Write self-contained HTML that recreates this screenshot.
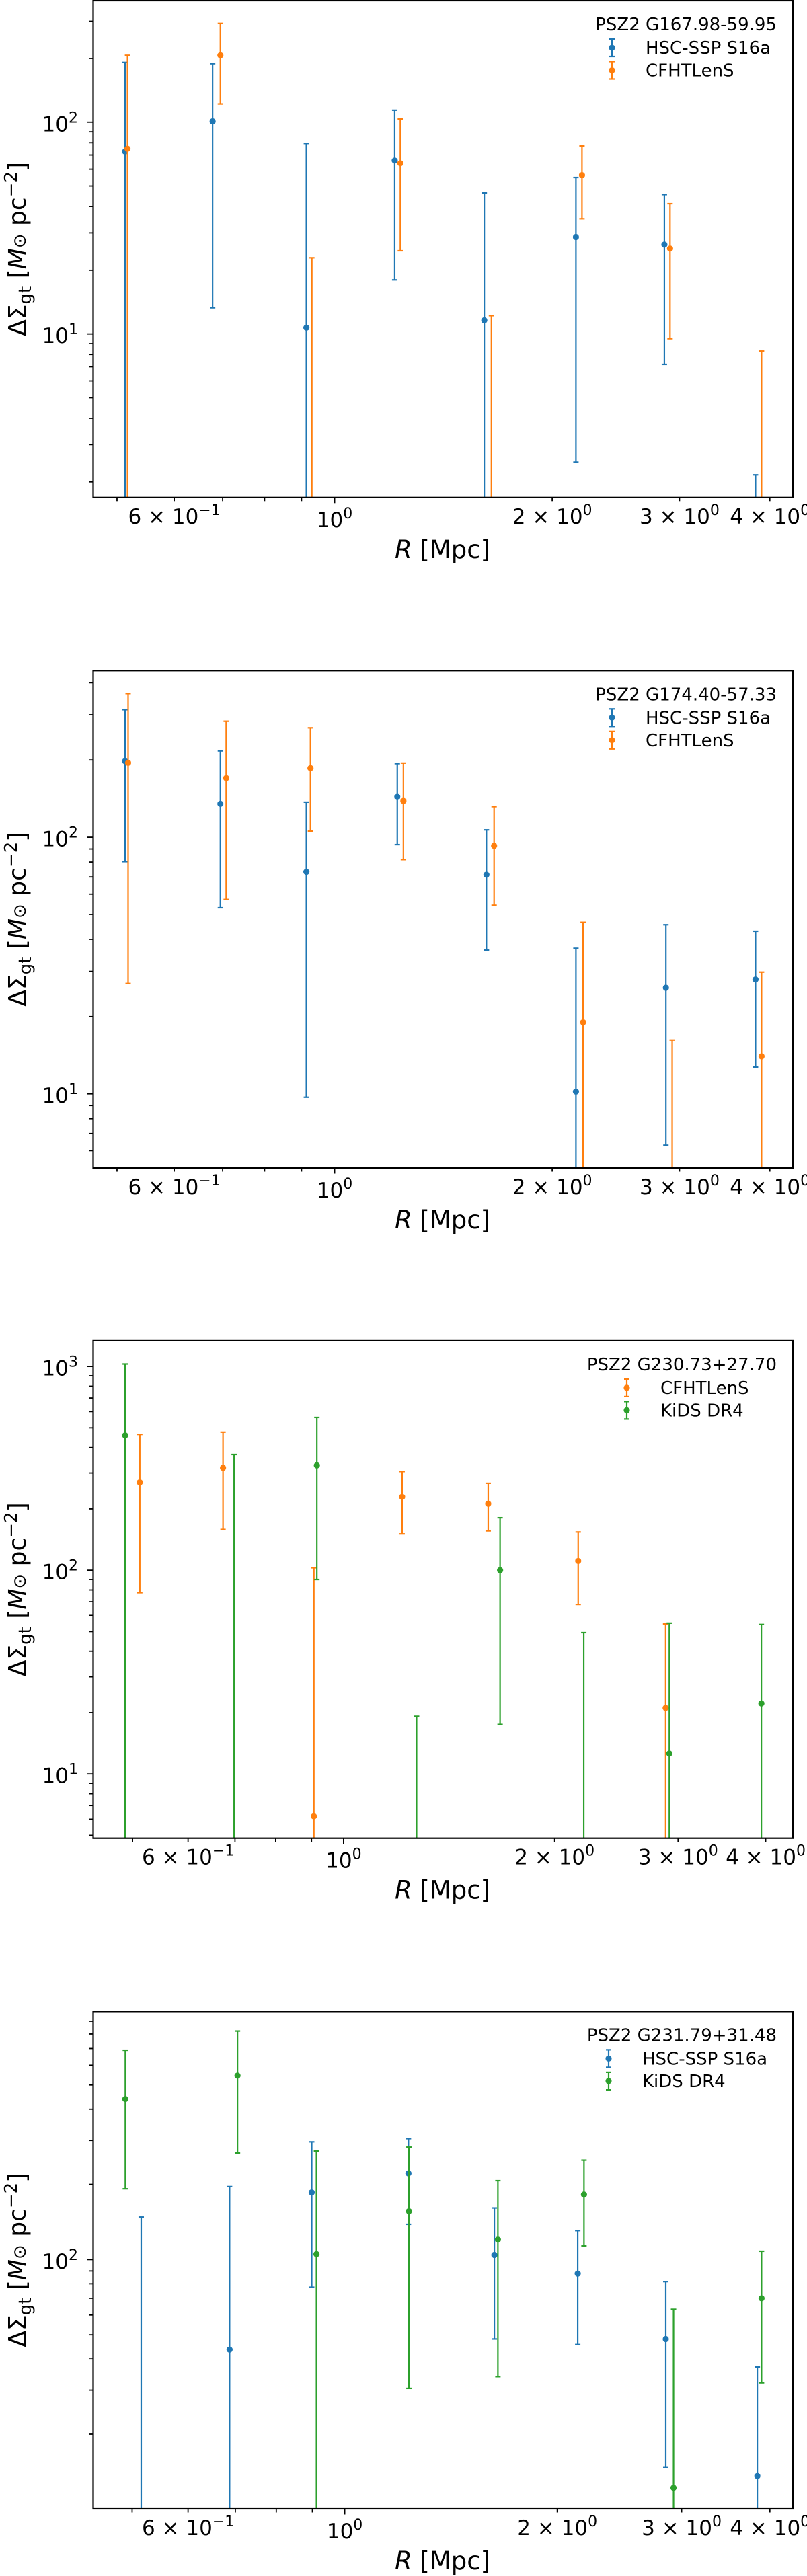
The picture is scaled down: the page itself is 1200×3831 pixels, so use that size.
<!DOCTYPE html>
<html><head><meta charset="utf-8">
<style>
html,body{margin:0;padding:0;background:#fff;width:1200px;height:3831px;overflow:hidden;}
svg{display:block;font-family:"DejaVu Sans","Liberation Sans",sans-serif;overflow:hidden;}
</style></head>
<body>
<svg id="fig" width="1200" height="3831" viewBox="0 0 1200 3831" xmlns="http://www.w3.org/2000/svg"></svg>
<script>
// ---------- Panel 1: PSZ2 G167.98-59.95 ----------
const p1_hsc_R   = [0.513, 0.678, 0.914, 1.211, 1.611, 2.157, 2.859, 3.822];
const p1_hsc_val = [72.7, 100.9, 10.7, 65.9, 11.6, 28.7, 26.4, 0.5];
const p1_hsc_hi  = [191.7, 189, 79.4, 114, 46.3, 54.8, 45.5, 2.16];
const p1_hsc_lo  = [0.1, 13.3, 0.1, 18.0, 0.1, 2.48, 7.18, 0.1];
const p1_cfh_R   = [0.517, 0.695, 0.930, 1.233, 1.648, 2.199, 2.911, 3.896];
const p1_cfh_val = [75, 207, 0.5, 64, 0.5, 56.2, 25.3, 0.5];
const p1_cfh_hi  = [207, 293, 22.9, 103.6, 12.2, 77.3, 41.2, 8.3];
const p1_cfh_lo  = [0.1, 122, 0.1, 24.7, 0.1, 35, 9.5, 0.1];
// ---------- Panel 2: PSZ2 G174.40-57.33 ----------
const p2_hsc_R   = [0.513, 0.695, 0.914, 1.221, 1.622, 2.157, 2.873, 3.822];
const p2_hsc_val = [198, 135, 73.3, 143.6, 71.4, 10.2, 25.9, 27.9];
const p2_hsc_hi  = [314, 217, 137, 193.6, 106.8, 36.9, 45.6, 43];
const p2_hsc_lo  = [80.3, 53.1, 9.7, 93.6, 36.3, 0.1, 6.3, 12.7];
const p2_cfh_R   = [0.518, 0.708, 0.926, 1.245, 1.662, 2.207, 2.931, 3.896];
const p2_cfh_val = [195, 170, 186, 138.5, 92.6, 19, 0.5, 14];
const p2_cfh_hi  = [363, 283, 267, 194.5, 131.6, 46.6, 16.2, 29.8];
const p2_cfh_lo  = [26.9, 57.2, 105.6, 81.8, 54.3, 0.1, 0.1, 0.1];
// ---------- Panel 3: PSZ2 G230.73+27.70 ----------
const p3_cfh_R   = [0.512, 0.673, 0.907, 1.212, 1.608, 2.161, 2.880];
const p3_cfh_val = [270, 318, 6.2, 229, 212, 111, 21.1];
const p3_cfh_hi  = [464, 476, 102.8, 305, 267, 154, 54.5];
const p3_cfh_lo  = [77.6, 158.5, 0.1, 150.7, 156, 67.9, 0.1];
const p3_kids_R   = [0.488, 0.698, 0.916, 1.271, 1.672, 2.201, 2.915, 3.944];
const p3_kids_val = [459, 0.5, 327, 0.5, 100, 0.5, 12.6, 22.2];
const p3_kids_hi  = [1028, 370, 562, 19.2, 181, 49.4, 55, 54.2];
const p3_kids_lo  = [0.1, 0.1, 90, 0.1, 17.5, 0.1, 0.1, 0.1];
// ---------- Panel 4: PSZ2 G231.79+31.48 ----------
const p4_hsc_R   = [0.515, 0.687, 0.898, 1.231, 1.629, 2.138, 2.849, 3.840];
const p4_hsc_val = [0.5, 43.6, 185.7, 221.5, 104.4, 87.9, 48.1, 13.6];
const p4_hsc_hi  = [148, 196, 296, 305, 161, 130.6, 81.6, 37.2];
const p4_hsc_lo  = [0.1, 0.1, 77.5, 138.4, 48.1, 45.7, 14.7, 0.1];
const p4_kids_R   = [0.489, 0.705, 0.912, 1.233, 1.648, 2.182, 2.922, 3.893];
const p4_kids_val = [439.5, 545, 105.2, 156.3, 120.2, 182, 12.2, 70];
const p4_kids_hi  = [689, 822, 272, 282, 207, 250, 63.2, 108];
const p4_kids_lo  = [192, 267, 0.1, 30.5, 34, 113.4, 0.1, 32.1];

const BLUE="#1f77b4", ORANGE="#ff7f0e", GREEN="#2ca02c";
const NS="http://www.w3.org/2000/svg";
const fig=document.getElementById('fig');
function mk(tag,attrs,parent){const e=document.createElementNS(NS,tag);for(const k in attrs)e.setAttribute(k,attrs[k]);(parent||fig).appendChild(e);return e;}

const panels=[
 {id:1,top:1,bottom:739.8,xmin:0.4634,xmax:4.305,ymin:1.69,ymax:375,yLabels:[10,100],title:"PSZ2 G167.98-59.95",legX:910,
  series:[{name:"HSC-SSP S16a",c:BLUE,R:p1_hsc_R,v:p1_hsc_val,hi:p1_hsc_hi,lo:p1_hsc_lo},{name:"CFHTLenS",c:ORANGE,R:p1_cfh_R,v:p1_cfh_val,hi:p1_cfh_hi,lo:p1_cfh_lo}]},
 {id:2,top:997.3,bottom:1737,xmin:0.4634,xmax:4.305,ymin:5.14,ymax:446,yLabels:[10,100],title:"PSZ2 G174.40-57.33",legX:910,
  series:[{name:"HSC-SSP S16a",c:BLUE,R:p2_hsc_R,v:p2_hsc_val,hi:p2_hsc_hi,lo:p2_hsc_lo},{name:"CFHTLenS",c:ORANGE,R:p2_cfh_R,v:p2_cfh_val,hi:p2_cfh_hi,lo:p2_cfh_lo}]},
 {id:3,top:1993.9,bottom:2733.7,xmin:0.4393,xmax:4.374,ymin:4.84,ymax:1337,yLabels:[10,100,1000],title:"PSZ2 G230.73+27.70",legX:932,
  series:[{name:"CFHTLenS",c:ORANGE,R:p3_cfh_R,v:p3_cfh_val,hi:p3_cfh_hi,lo:p3_cfh_lo},{name:"KiDS DR4",c:GREEN,R:p3_kids_R,v:p3_kids_val,hi:p3_kids_hi,lo:p3_kids_lo}]},
 {id:4,top:2991.4,bottom:3731,xmin:0.4403,xmax:4.312,ymin:10.05,ymax:985,yLabels:[100],title:"PSZ2 G231.79+31.48",legX:905,
  series:[{name:"HSC-SSP S16a",c:BLUE,R:p4_hsc_R,v:p4_hsc_val,hi:p4_hsc_hi,lo:p4_hsc_lo},{name:"KiDS DR4",c:GREEN,R:p4_kids_R,v:p4_kids_val,hi:p4_kids_hi,lo:p4_kids_lo}]}
];
const L=138.5, Rt=1179;
const xTicks=[0.5,0.6,0.7,0.8,0.9,1,2,3,4];
const xTickLabels=[null,["6 × 10","−1"],null,null,null,["10","0"],["2 × 10","0"],["3 × 10","0"],["4 × 10","0"]];

panels.forEach(p=>{
  const g=mk('g',{});
  
  
  const lx0=Math.log10(p.xmin),lx1=Math.log10(p.xmax),ly0=Math.log10(p.ymin),ly1=Math.log10(p.ymax);
  const X=r=>L+(Math.log10(r)-lx0)/(lx1-lx0)*(Rt-L);
  const Y=v=>p.bottom-(Math.log10(v)-ly0)/(ly1-ly0)*(p.bottom-p.top);
  const clampY=y=>Math.max(p.top,Math.min(p.bottom,y));
  const dg=mk('g',{},g);
  p.series.forEach(s=>{
    const sg=mk('g',{},dg);
    
    
    s.R.forEach((r,i)=>{
      const x=X(r);
      const yhRaw=Y(s.hi[i]), ylRaw=Y(s.lo[i]), ycRaw=Y(s.v[i]);
      const yh=clampY(yhRaw), yl=clampY(ylRaw);
      if(yh>=yl) return;
      const eb=mk('line',{x1:x,x2:x,y1:yh,y2:yl,stroke:s.c,'stroke-width':2.2},sg);
      
      
      if(yhRaw>=p.top&&yhRaw<=p.bottom) mk('line',{x1:x-4,x2:x+4,y1:yh,y2:yh,stroke:s.c,'stroke-width':2.2},sg);
      if(ylRaw>=p.top&&ylRaw<=p.bottom) mk('line',{x1:x-4,x2:x+4,y1:yl,y2:yl,stroke:s.c,'stroke-width':2.2},sg);
      if(ycRaw>=p.top&&ycRaw<=p.bottom){
        const pt=mk('circle',{cx:x,cy:ycRaw,r:4.6,fill:s.c},sg);
        
        
      }
    });
  });
  const fr=mk('rect',{x:L,y:p.top,width:Rt-L,height:p.bottom-p.top,fill:'none',stroke:'#000','stroke-width':2.2},g);
  
  
  const xa=mk('g',{},g);
  
  
  xTicks.forEach((t,i)=>{
    const x=X(t), major=(t===1);
    mk('line',{x1:x,x2:x,y1:p.bottom,y2:p.bottom+(major?8.5:5.5),stroke:'#000','stroke-width':1.8},xa);
    const lab=xTickLabels[i];
    if(lab){
      const tx=mk('text',{x:x,y:p.bottom+(major?44:39),'font-size':31,'text-anchor':'middle',fill:'#000'},xa);
      
      
      tx.appendChild(document.createTextNode(lab[0]));
      const sp=mk('tspan',{dy:-13,'font-size':22},tx); sp.textContent=lab[1];
    }
  });
  const xl=mk('text',{x:658,y:p.bottom+90,'font-size':37,'text-anchor':'middle',fill:'#000'},g);
  
  
  const ri=mk('tspan',{'font-style':'italic'},xl); ri.textContent='R';
  xl.appendChild(document.createTextNode(' [Mpc]'));
  const ya=mk('g',{},g);
  
  
  for(let d=Math.floor(ly0);d<=Math.ceil(ly1);d++){
    for(let m=1;m<=9;m++){
      const v=m*Math.pow(10,d);
      if(v<p.ymin||v>p.ymax) continue;
      const y=Y(v);
      mk('line',{x1:L,x2:L-(m===1?8.5:5.5),y1:y,y2:y,stroke:'#000','stroke-width':1.8},ya);
    }
  }
  p.yLabels.forEach(v=>{
    const y=Y(v);
    const tx=mk('text',{x:116,y:y+13.5,'font-size':31,'text-anchor':'end',fill:'#000'},ya);
    
    
    tx.appendChild(document.createTextNode('10'));
    const sp=mk('tspan',{dy:-13,'font-size':22},tx); sp.textContent=String(Math.round(Math.log10(v)));
  });
  const cy=(p.top+p.bottom)/2;
  const yl=mk('text',{x:0,y:0,'font-size':36,'text-anchor':'middle',fill:'#000',transform:`translate(38,${cy}) rotate(-90)`},g);
  
  
  yl.appendChild(document.createTextNode('ΔΣ'));
  const sub=mk('tspan',{dy:8,'font-size':26},yl); sub.appendChild(document.createTextNode('gt'));
  const t1=mk('tspan',{dy:-8},yl); t1.appendChild(document.createTextNode(' ['));
  const tm=mk('tspan',{'font-style':'italic'},yl); tm.textContent='M';
  const t2=mk('tspan',{'font-size':26},yl); t2.textContent='⊙';
  const t3=mk('tspan',{},yl); t3.textContent=' pc';
  const t4=mk('tspan',{dy:-13,'font-size':26},yl); t4.textContent='−2';
  const t5=mk('tspan',{dy:13},yl); t5.textContent=']';
  const lg=mk('g',{},g);
  
  
  const tt=mk('text',{x:1155,y:p.top+44,'font-size':26,'text-anchor':'end',fill:'#000'},lg);
  
  
  tt.textContent=p.title;
  p.series.forEach((s,k)=>{
    const cyL=p.top+70+k*33.5;
    const e=mk('g',{},lg);
    
    
    mk('line',{x1:p.legX,x2:p.legX,y1:cyL-13,y2:cyL+13,stroke:s.c,'stroke-width':2.2},e);
    mk('line',{x1:p.legX-4,x2:p.legX+4,y1:cyL-13,y2:cyL-13,stroke:s.c,'stroke-width':2.2},e);
    mk('line',{x1:p.legX-4,x2:p.legX+4,y1:cyL+13,y2:cyL+13,stroke:s.c,'stroke-width':2.2},e);
    mk('circle',{cx:p.legX,cy:cyL,r:4.6,fill:s.c},e);
    const lt=mk('text',{x:p.legX+50,y:cyL+9,'font-size':26,fill:'#000'},e);
    lt.textContent=s.name;
  });
});
</script>
</body></html>
